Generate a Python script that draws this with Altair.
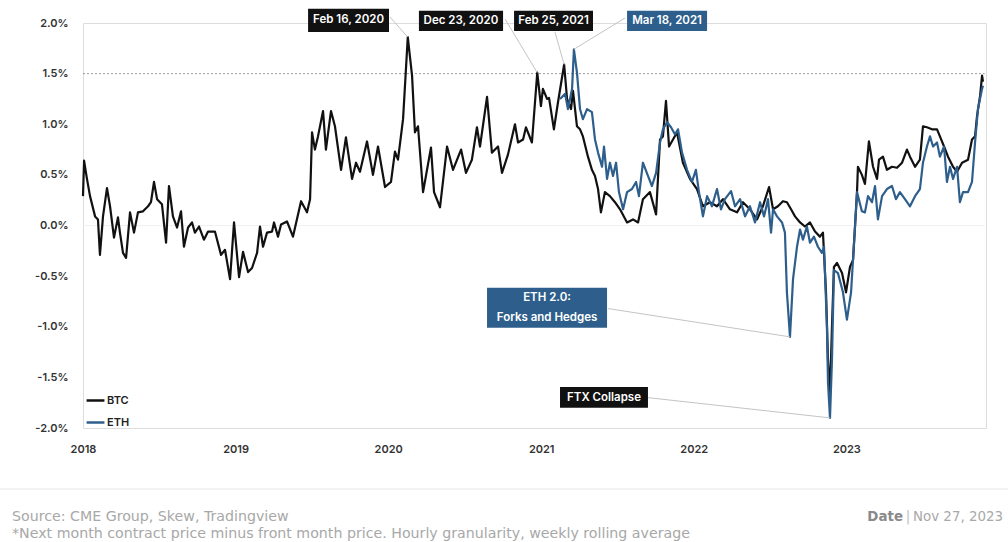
import altair as alt
import pandas as pd
import numpy as np

FONT = "Inter"
FOOT_FONT = "DejaVu Sans"

# time positions as years after 1 Jan 2018, values in percent
btc_yr = [0.000,0.007,0.026,0.046,0.079,0.098,0.111,0.131,0.157,0.177,0.203,0.229,0.242,0.262,0.282,0.308,0.334,0.360,0.393,0.426,0.445,0.465,0.485,0.517,0.544,0.563,0.589,0.616,0.642,0.661,0.688,0.714,0.733,0.760,0.792,0.819,0.864,0.904,0.930,0.963,0.989,1.022,1.048,1.081,1.107,1.140,1.159,1.179,1.205,1.238,1.251,1.277,1.297,1.336,1.375,1.428,1.467,1.487,1.500,1.519,1.539,1.572,1.591,1.624,1.650,1.690,1.722,1.762,1.788,1.814,1.860,1.899,1.932,1.978,2.017,2.043,2.063,2.096,2.127,2.155,2.174,2.194,2.227,2.246,2.279,2.299,2.338,2.384,2.423,2.476,2.508,2.547,2.580,2.600,2.646,2.678,2.718,2.744,2.783,2.829,2.849,2.882,2.901,2.940,2.975,2.999,3.012,3.039,3.052,3.084,3.111,3.151,3.170,3.196,3.209,3.235,3.255,3.274,3.307,3.333,3.353,3.373,3.392,3.418,3.451,3.484,3.517,3.563,3.602,3.635,3.667,3.713,3.753,3.779,3.798,3.818,3.838,3.864,3.890,3.929,3.975,4.021,4.060,4.106,4.152,4.191,4.237,4.283,4.322,4.368,4.414,4.453,4.493,4.519,4.551,4.584,4.610,4.637,4.663,4.696,4.728,4.761,4.794,4.826,4.846,4.866,4.879,4.892,4.905,4.918,4.938,4.971,4.997,5.023,5.043,5.069,5.075,5.101,5.121,5.147,5.174,5.200,5.213,5.239,5.265,5.298,5.331,5.364,5.396,5.416,5.449,5.481,5.501,5.527,5.560,5.593,5.612,5.639,5.665,5.698,5.724,5.757,5.796,5.822,5.842,5.855,5.875,5.888,5.894]
btc_val = [0.29,0.64,0.46,0.29,0.09,0.06,-0.29,0.09,0.37,0.19,-0.12,0.08,-0.07,-0.27,-0.32,0.13,-0.07,0.13,0.14,0.19,0.23,0.43,0.26,0.21,-0.17,0.39,0.09,-0.02,0.14,-0.21,-0.02,0.03,-0.07,-0.01,-0.14,-0.06,-0.06,-0.29,-0.24,-0.53,0.03,-0.51,-0.26,-0.46,-0.42,-0.27,-0.01,-0.21,-0.07,-0.06,0.03,-0.11,0.01,0.04,-0.11,0.24,0.13,0.26,0.92,0.75,0.88,1.13,0.75,1.13,0.98,0.55,0.87,0.46,0.62,0.53,0.83,0.50,0.78,0.38,0.43,0.73,0.65,1.05,1.86,1.48,0.92,0.98,0.33,0.49,0.77,0.33,0.18,0.78,0.55,0.75,0.52,0.65,0.97,0.78,1.27,0.72,0.78,0.52,0.70,1.00,0.82,0.85,0.97,0.82,1.51,1.18,1.35,1.25,1.26,0.95,1.22,1.59,1.25,1.15,1.33,0.98,0.95,0.88,0.68,0.55,0.49,0.36,0.13,0.33,0.29,0.23,0.16,0.03,0.06,0.03,0.26,0.33,0.11,0.85,0.88,1.23,0.78,0.85,0.92,0.62,0.46,0.36,0.19,0.23,0.19,0.26,0.16,0.13,0.23,0.16,0.06,0.19,0.38,0.16,0.19,0.24,0.23,0.16,0.09,0.03,-0.01,0.03,-0.06,-0.11,-0.07,-0.66,-1.33,-1.65,-1.0,-0.41,-0.37,-0.47,-0.66,-0.41,-0.34,0.33,0.58,0.50,0.41,0.83,0.58,0.46,0.65,0.68,0.55,0.58,0.57,0.62,0.75,0.68,0.58,0.65,0.98,0.97,0.95,0.95,0.88,0.78,0.68,0.58,0.53,0.62,0.65,0.85,0.88,1.08,1.28,1.48,1.42]

eth_yr = [3.124,3.157,3.176,3.203,3.215,3.235,3.255,3.274,3.301,3.333,3.353,3.373,3.399,3.412,3.432,3.451,3.471,3.491,3.510,3.537,3.563,3.595,3.622,3.641,3.667,3.700,3.726,3.753,3.779,3.798,3.825,3.851,3.877,3.897,3.923,3.956,3.988,4.014,4.034,4.060,4.087,4.119,4.152,4.178,4.204,4.244,4.270,4.303,4.336,4.368,4.401,4.434,4.460,4.486,4.506,4.519,4.545,4.578,4.597,4.610,4.630,4.650,4.676,4.696,4.715,4.741,4.761,4.787,4.813,4.839,4.853,4.872,4.879,4.892,4.905,4.918,4.944,4.977,5.003,5.030,5.056,5.069,5.101,5.121,5.141,5.167,5.187,5.206,5.233,5.265,5.298,5.324,5.350,5.383,5.416,5.449,5.481,5.501,5.527,5.547,5.567,5.593,5.612,5.639,5.658,5.678,5.698,5.724,5.743,5.763,5.796,5.822,5.842,5.861,5.888,5.894]
eth_val = [1.25,1.30,1.15,1.35,1.74,1.51,1.15,1.05,1.15,1.12,0.85,0.72,0.58,0.78,0.46,0.62,0.49,0.62,0.33,0.16,0.33,0.36,0.43,0.29,0.62,0.49,0.39,0.52,0.82,0.95,1.02,0.97,0.90,0.95,0.72,0.55,0.43,0.55,0.33,0.09,0.29,0.19,0.36,0.16,0.26,0.34,0.19,0.26,0.09,0.19,0.03,0.23,0.09,0.26,-0.07,0.16,0.09,0.03,-0.07,-0.66,-1.10,-0.53,-0.21,-0.04,-0.14,-0.01,-0.17,-0.11,-0.21,-0.27,-0.21,-1.0,-1.55,-1.90,-1.33,-0.44,-0.47,-0.66,-0.93,-0.66,-0.01,0.33,0.14,0.13,0.29,0.23,0.39,0.06,0.29,0.36,0.39,0.26,0.33,0.26,0.19,0.29,0.36,0.62,0.78,0.88,0.78,0.82,0.68,0.78,0.43,0.58,0.46,0.58,0.23,0.33,0.33,0.43,0.82,1.15,1.35,1.38]

series_names = ["BTC", "ETH"]
series_colors = ["#111111", "#2e5f8c"]

# annotation boxes (years after 2018, percent values)
ann_text = ["Feb 16, 2020", "Dec 23, 2020", "Feb 25, 2021", "Mar 18, 2021", "FTX Collapse"]
ann_fill = ["#111111", "#111111", "#111111", "#2e5f8c", "#111111"]
ann_x0 = [1.474, 2.200, 2.823, 3.563, 3.124]
ann_x1 = [2.004, 2.751, 3.340, 4.087, 3.700]
ann_y0 = [1.91, 1.92, 1.92, 1.92, -1.80]
ann_y1 = [2.14, 2.12, 2.12, 2.12, -1.594]
ann_ty = [2.025, 2.02, 2.02, 2.02, -1.70]
# connectors: from label to point
con_x0 = [2.010, 2.764, 3.091, 3.550, 3.700, 3.438]
con_y0 = [2.06, 2.04, 1.91, 2.05, -1.70, -0.82]
con_x1 = [2.127, 2.975, 3.151, 3.215, 4.892, 4.630]
con_y1 = [1.86, 1.51, 1.59, 1.74, -1.90, -1.10]

eth_box = dict(x0=2.646, x1=3.432, y0=-1.01, y1=-0.614)
eth_lines = ["ETH 2.0:", "Forks and Hedges"]
eth_line_y = [-0.72, -0.91]


def yr2date(v):
    v = np.asarray(v, dtype=float)
    d = pd.Timestamp("2018-01-01") + pd.to_timedelta(v * 365.25, unit="D")
    return [x.strftime("%Y-%m-%dT%H:%M:%S") for x in d]


df = pd.concat([
    pd.DataFrame({"date": yr2date(btc_yr), "v": btc_val, "series": "BTC"}),
    pd.DataFrame({"date": yr2date(eth_yr), "v": eth_val, "series": "ETH"}),
])

xscale = alt.Scale(domain=[alt.DateTime(year=2018, month=1, date=1),
                           alt.DateTime(year=2023, month=12, date=1)])
yscale = alt.Scale(domain=[-2, 2], nice=False, zero=False)

W, H = 903, 405

years = [alt.DateTime(year=y, month=1, date=1) for y in range(2018, 2024)]

lines = alt.Chart(df).mark_line(strokeWidth=2.2, strokeJoin="round").encode(
    x=alt.X("date:T", scale=xscale, title=None,
            axis=alt.Axis(values=years, format="%Y", domain=False, ticks=False, grid=False,
                          labelFont=FONT, labelFontSize=11, labelFontWeight=600,
                          labelColor="#333333", labelPadding=15, labelFlush=False)),
    y=alt.Y("v:Q", scale=yscale, title=None,
            axis=alt.Axis(values=[-2, -1.5, -1, -0.5, 0, 0.5, 1, 1.5, 2],
                          labelExpr="replace(format(datum.value, '.1f'), '\u2212', '-') + '%'",
                          domain=False, ticks=False, grid=False,
                          labelFont=FONT, labelFontSize=11, labelFontWeight=600,
                          labelColor="#333333", labelPadding=15)),
    color=alt.Color("series:N", scale=alt.Scale(domain=series_names, range=series_colors),
                    legend=alt.Legend(orient="none", legendX=2, legendY=367, title=None,
                                      symbolType="stroke", symbolStrokeWidth=2.5,
                                      symbolSize=320, labelFont=FONT, labelFontSize=11,
                                      labelFontWeight=600, labelColor="#222222",
                                      rowPadding=6, labelOffset=1)),
    order=alt.Order("date:T"),
)

ref_df = pd.DataFrame({"v": [1.5], "x0": yr2date([0.0]), "x1": yr2date([5.905])})
ref15 = alt.Chart(ref_df).mark_rule(color="#9a9a9a", strokeWidth=1, strokeDash=[2, 2]).encode(
    x=alt.X("x0:T", scale=xscale), x2="x1:T", y=alt.Y("v:Q", scale=yscale))
zero_df = pd.DataFrame({"v": [0.0], "x0": yr2date([0.0]), "x1": yr2date([5.905])})
zero = alt.Chart(zero_df).mark_rule(color="#f0f0f0", strokeWidth=1).encode(
    x=alt.X("x0:T", scale=xscale), x2="x1:T", y=alt.Y("v:Q", scale=yscale))

con_df = pd.DataFrame({"x0": yr2date(con_x0), "x1": yr2date(con_x1), "y0": con_y0, "y1": con_y1})
connectors = alt.Chart(con_df).mark_rule(color="#c4c4c4", strokeWidth=1).encode(
    x=alt.X("x0:T", scale=xscale), x2="x1:T",
    y=alt.Y("y0:Q", scale=yscale), y2="y1:Q")

ann_df = pd.DataFrame({
    "text": ann_text, "fill": ann_fill,
    "x0": yr2date(ann_x0), "x1": yr2date(ann_x1),
    "tx": yr2date((np.array(ann_x0) + np.array(ann_x1)) / 2),
    "y0": ann_y0, "y1": ann_y1, "ty": ann_ty,
})
boxes = alt.Chart(ann_df).mark_rect().encode(
    x=alt.X("x0:T", scale=xscale), x2="x1:T",
    y=alt.Y("y0:Q", scale=yscale), y2="y1:Q",
    fill=alt.Fill("fill:N", scale=None))
box_text = alt.Chart(ann_df).mark_text(color="white", font=FONT, fontSize=11.5, fontWeight=600,
                                       align="center", baseline="middle").encode(
    x=alt.X("tx:T", scale=xscale), y=alt.Y("ty:Q", scale=yscale), text="text:N")

eth_df = pd.DataFrame({"x0": yr2date([eth_box["x0"]]), "x1": yr2date([eth_box["x1"]]),
                       "y0": [eth_box["y0"]], "y1": [eth_box["y1"]]})
eth_rect = alt.Chart(eth_df).mark_rect(color="#2e5f8c").encode(
    x=alt.X("x0:T", scale=xscale), x2="x1:T",
    y=alt.Y("y0:Q", scale=yscale), y2="y1:Q")
eth_txt_df = pd.DataFrame({"text": eth_lines, "ty": eth_line_y,
                           "tx": yr2date([(eth_box["x0"] + eth_box["x1"]) / 2] * 2)})
eth_text = alt.Chart(eth_txt_df).mark_text(color="white", font=FONT, fontSize=11.5, fontWeight=600,
                                           align="center", baseline="middle").encode(
    x=alt.X("tx:T", scale=xscale), y=alt.Y("ty:Q", scale=yscale), text="text:N")

# footer
one = pd.DataFrame({"a": [0]})
sep = alt.Chart(one).mark_rule(color="#e6e6e6", strokeWidth=1).encode(
    x=alt.value(-83), x2=alt.value(925), y=alt.value(466))
src1 = alt.Chart(one).mark_text(
    text="Source: CME Group, Skew, Tradingview", font=FOOT_FONT, fontSize=14.2, color="#a8a8a8",
    align="left", baseline="middle").encode(x=alt.value(-71), y=alt.value(494))
src2 = alt.Chart(one).mark_text(
    text="*Next month contract price minus front month price. Hourly granularity, weekly rolling average",
    font=FOOT_FONT, fontSize=14.2, color="#a8a8a8", align="left", baseline="middle").encode(
    x=alt.value(-71), y=alt.value(511))
date_r = alt.Chart(one).mark_text(
    text="Nov 27, 2023", font=FOOT_FONT, fontSize=13.4, color="#a8a8a8", align="right",
    baseline="middle").encode(x=alt.value(920), y=alt.value(494))
date_bar = alt.Chart(one).mark_text(
    text="|", font=FOOT_FONT, fontSize=13.4, color="#c0c0c0", align="center",
    baseline="middle").encode(x=alt.value(825), y=alt.value(494))
date_l = alt.Chart(one).mark_text(
    text="Date", font=FOOT_FONT, fontSize=13.4, fontWeight=700, color="#8a8a8a", align="right",
    baseline="middle").encode(x=alt.value(820), y=alt.value(494))

chart = alt.layer(
    zero, ref15, lines, connectors, boxes, box_text, eth_rect, eth_text,
    sep, src1, src2, date_r, date_bar, date_l,
).properties(
    width=W, height=H,
    autosize=alt.AutoSizeParams(type="none"),
    padding={"left": 83, "top": 23, "right": 22, "bottom": 114},
).configure_view(stroke=None).configure(background="white")

chart.save("out.html", embed_options={"renderer": "svg", "actions": False})
